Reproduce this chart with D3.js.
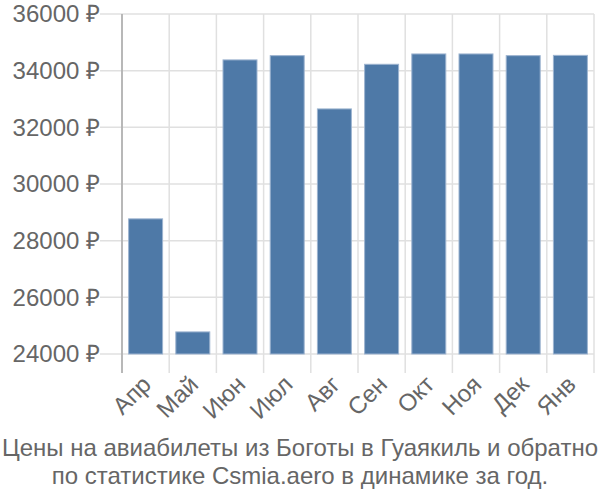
<!DOCTYPE html>
<html><head><meta charset="utf-8">
<script src="https://cdn.jsdelivr.net/npm/d3@7"></script>
<style>body{margin:0;background:#fff}svg{display:block}text{font-family:"Liberation Sans",Arial,sans-serif}</style>
</head><body>
<svg id="c" width="600" height="500"></svg>
<script>
const months = ["Апр","Май","Июн","Июл","Авг","Сен","Окт","Ноя","Дек","Янв"];
const prices = [28770, 24780, 34380, 34530, 32650, 34225, 34590, 34590, 34530, 34540];
const yTicks = [24000, 26000, 28000, 30000, 32000, 34000, 36000];
const titleLines = ["Цены на авиабилеты из Боготы в Гуаякиль и обратно", "по статистике Csmia.aero в динамике за год."];

(function () {
const svg = d3.select("#c");
const pL = 122, pR = 594, pT = 14, pB = 354;
const x = d3.scaleBand().domain(months).range([pL, pR]).paddingInner(0.28).paddingOuter(0.14);
const xg = d3.scaleBand().domain(months).range([pL, pR]);
const y = d3.scaleLinear().domain([24000, 36000]).range([pB, pT]);

svg.append("g").selectAll("line").data(yTicks).join("line")
  .attr("x1", 100).attr("x2", pR).attr("y1", d => y(d)).attr("y2", d => y(d))
  .attr("stroke", "#e0e0e0").attr("stroke-width", 1.5);
const vb = months.map(m => xg(m)).concat([pR]);
svg.append("g").selectAll("line").data(vb).join("line")
  .attr("x1", d => d).attr("x2", d => d).attr("y1", pT).attr("y2", 373)
  .attr("stroke", "#e0e0e0").attr("stroke-width", 1.5);

svg.append("g").selectAll("rect").data(prices).join("rect")
  .attr("x", (d, i) => x(months[i])).attr("width", x.bandwidth())
  .attr("y", d => y(d)).attr("height", d => y(24000) - y(d))
  .attr("fill", "#4e79a7").attr("stroke", "#9db4d0").attr("stroke-width", 1);

svg.append("line").attr("x1", pL).attr("x2", pL).attr("y1", pT).attr("y2", 373)
  .attr("stroke", "#a8a8a8").attr("stroke-width", 1.5);

svg.append("g").selectAll("text").data(yTicks).join("text")
  .attr("x", 100).attr("y", d => y(d)).attr("dy", "0.35em").attr("text-anchor", "end")
  .attr("font-size", 24).attr("fill", "#666").text(d => d + " ₽");

svg.append("g").selectAll("text").data(months).join("text")
  .attr("transform", d => `translate(${xg(d) + xg.bandwidth() / 2 + 1},${380}) rotate(-45)`)
  .attr("text-anchor", "end").attr("dy", "0.35em")
  .attr("font-size", 24).attr("fill", "#666").text(d => d);

svg.append("g").selectAll("text").data(titleLines).join("text")
  .attr("x", 300).attr("y", (d, i) => 456 + i * 28).attr("text-anchor", "middle")
  .attr("font-size", 24).attr("fill", "#666").text(d => d);
})();
</script>
</body></html>
